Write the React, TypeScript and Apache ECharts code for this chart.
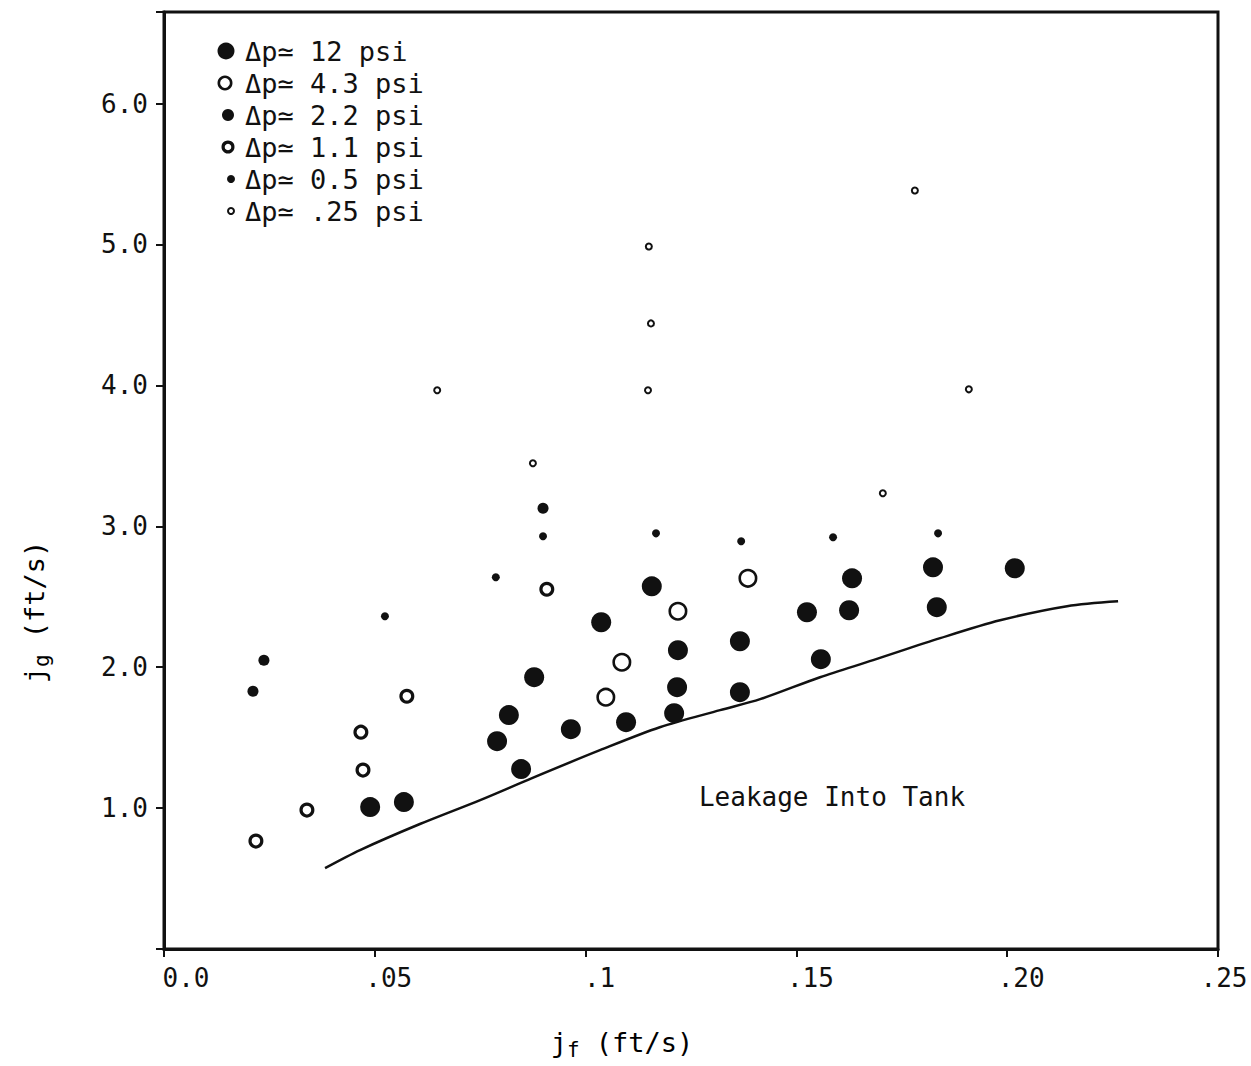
import React, { useEffect, useRef } from "react";
import * as echarts from "echarts";

const xTickLabels = ["0.0", ".05", ".1", ".15", ".20", ".25"];
const yTickLabels = ["", "1.0", "2.0", "3.0", "4.0", "5.0", "6.0"];

const seriesNames = ["Δp≃ 12 psi", "Δp≃ 4.3 psi", "Δp≃ 2.2 psi", "Δp≃ 1.1 psi", "Δp≃ 0.5 psi", "Δp≃ .25 psi"];

const psi12 = [
  [0.0489, 1.007], [0.0569, 1.043], [0.0847, 1.277], [0.079, 1.475], [0.0818, 1.66],
  [0.0878, 1.929], [0.0965, 1.56], [0.1037, 2.319], [0.1096, 1.61], [0.1157, 2.574],
  [0.1219, 2.121], [0.1217, 1.858], [0.121, 1.674], [0.1366, 2.184], [0.1366, 1.823],
  [0.1525, 2.39], [0.1558, 2.057], [0.1625, 2.404], [0.1632, 2.631], [0.1824, 2.709],
  [0.1833, 2.426], [0.2018, 2.702],
];
const psi4_3 = [[0.1048, 1.787], [0.1086, 2.035], [0.1219, 2.397], [0.1385, 2.631]];
const psi2_2 = [[0.0211, 1.83], [0.0237, 2.05], [0.0899, 3.128]];
const psi1_1 = [[0.0218, 0.766], [0.0339, 0.986], [0.0467, 1.539], [0.0472, 1.27], [0.0576, 1.794], [0.0908, 2.553]];
const psi0_5 = [[0.0524, 2.362], [0.0787, 2.638], [0.0899, 2.929], [0.1167, 2.95], [0.1369, 2.894], [0.1587, 2.922], [0.1836, 2.95]];
const psi0_25 = [[0.0648, 3.965], [0.0875, 3.447], [0.1148, 3.965], [0.1155, 4.44], [0.115, 4.986], [0.1705, 3.234], [0.1781, 5.383], [0.1909, 3.972]];

const boundary = [
  [0.0382, 0.574], [0.0465, 0.702], [0.0607, 0.887], [0.075, 1.057], [0.0873, 1.213],
  [0.1034, 1.411], [0.1176, 1.574], [0.1319, 1.695], [0.1414, 1.773], [0.1556, 1.929],
  [0.1682, 2.05], [0.1841, 2.206], [0.1983, 2.333], [0.2142, 2.433], [0.2263, 2.468],
];

const FONT = "'DejaVu Sans Mono', monospace";
const INK = "#111";

export default function App() {
  const ref = useRef<HTMLDivElement>(null);
  useEffect(() => {
    if (!ref.current) return;
    document.documentElement.style.overflow = "hidden";
    document.body.style.overflow = "hidden";
    document.body.style.margin = "0";
    const chart = echarts.init(ref.current, undefined, { renderer: "svg", width: 1251, height: 1066 });

    const styles = [
      { size: 20, fill: INK, border: 0 },
      { size: 19, fill: "#fff", border: 2.6 },
      { size: 11, fill: INK, border: 0 },
      { size: 15, fill: "#fff", border: 3.2 },
      { size: 8, fill: INK, border: 0 },
      { size: 8, fill: "#fff", border: 2 },
    ];
    const datasets = [psi12, psi4_3, psi2_2, psi1_1, psi0_5, psi0_25];

    const legendSizes = [17, 15, 12, 13, 8, 8];
    const legendY = [51, 83, 115, 147, 179, 211];
    const legendX = [226, 225, 228, 228, 231, 231];
    const legendGraphics: any[] = [];
    seriesNames.forEach((n, i) => {
      const st = styles[i];
      legendGraphics.push({
        type: "circle",
        shape: { cx: legendX[i], cy: legendY[i], r: legendSizes[i] / 2 - (st.border ? st.border / 2 : 0) },
        style: { fill: st.fill, stroke: st.border ? INK : null, lineWidth: st.border },
      });
      legendGraphics.push({
        type: "text",
        x: 245,
        y: legendY[i],
        style: { text: n, font: `27px ${FONT}`, fill: INK, verticalAlign: "middle", align: "left" },
      });
    });

    const rich = {
      j: { fontSize: 27, fontFamily: FONT, color: INK },
      s: { fontSize: 21, fontFamily: FONT, color: INK, padding: [16, 0, 0, 0] },
      t: { fontSize: 27, fontFamily: FONT, color: INK },
    };

    const tickRich = {
      a: { fontSize: 26, fontFamily: FONT, color: INK, padding: [0, 0, 0, 44] },
      m: { fontSize: 26, fontFamily: FONT, color: INK, padding: [0, 0, 0, 28] },
      e: { fontSize: 26, fontFamily: FONT, color: INK, padding: [0, 0, 0, 12] },
    };

    chart.setOption({
      animation: false,
      backgroundColor: "#fff",
      grid: {
        left: 164, right: 33, top: 12, bottom: 117,
        containLabel: false,
        outerBoundsMode: "none",
        show: true, borderColor: INK, borderWidth: 3,
      },
      xAxis: {
        type: "value", min: 0, max: 0.25, interval: 0.05,
        axisLine: { show: true, lineStyle: { color: INK, width: 3 } },
        axisTick: { show: true, length: 8, lineStyle: { color: INK, width: 2 } },
        splitLine: { show: false },
        axisLabel: {
          color: INK, fontFamily: FONT, fontSize: 26, margin: 16,
          rich: tickRich,
          formatter: (v: number) => {
            const i = Math.round(v / 0.05);
            const t = xTickLabels[i] ?? "";
            const k = i === 0 ? "a" : i === xTickLabels.length - 1 ? "e" : "m";
            return `{${k}|${t}}`;
          },
        },
      },
      yAxis: {
        type: "value", min: 0, max: 6.65, interval: 1,
        axisLine: { show: true, lineStyle: { color: INK, width: 3 } },
        axisTick: { show: true, length: 8, lineStyle: { color: INK, width: 2 } },
        splitLine: { show: false },
        axisLabel: {
          color: INK, fontFamily: FONT, fontSize: 26, margin: 16,
          formatter: (v: number) => {
            const i = Math.round(v);
            return Math.abs(v - i) < 1e-6 ? yTickLabels[i] ?? "" : "";
          },
        },
      },
      series: [
        ...datasets.map((d, i) => ({
          name: seriesNames[i],
          type: "scatter",
          data: d,
          symbol: "circle",
          symbolSize: styles[i].size - styles[i].border,
          itemStyle: {
            color: styles[i].fill,
            borderColor: INK,
            borderWidth: styles[i].border,
            opacity: 1,
          },
          z: 3,
        })),
        {
          name: "boundary",
          type: "line",
          data: boundary,
          smooth: 0.3,
          showSymbol: false,
          symbol: "none",
          lineStyle: { color: INK, width: 2.5 },
          z: 2,
        },
      ],
      graphic: [
        ...legendGraphics,
        {
          type: "text", x: 832, y: 797,
          style: { text: "Leakage Into Tank", font: `26px ${FONT}`, fill: INK, align: "center", verticalAlign: "middle" },
        },
        {
          type: "text", x: 622, y: 1042,
          style: { text: "{j|j}{s|f}{t| (ft/s)}", rich, align: "center", verticalAlign: "middle" },
        },
        {
          type: "text", x: 34, y: 612, rotation: Math.PI / 2,
          style: { text: "{j|j}{s|g}{t| (ft/s)}", rich, align: "center", verticalAlign: "middle" },
        },
      ],
    });
    return () => chart.dispose();
  }, []);
  return (
    <div
      ref={ref}
      style={{ position: "absolute", left: 0, top: 0, width: 1251, height: 1066 }}
    />
  );
}
